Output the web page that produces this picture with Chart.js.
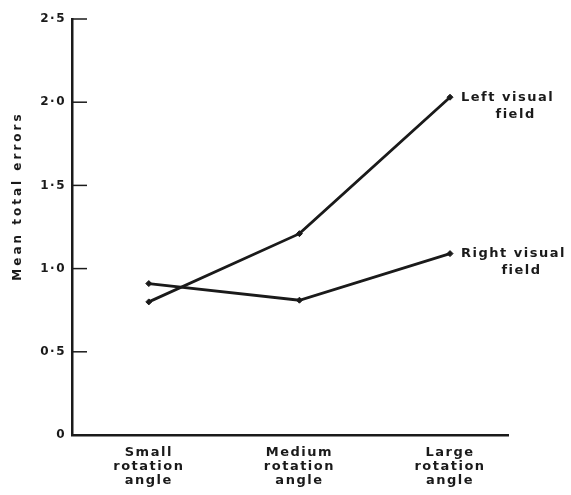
<!DOCTYPE html>
<html>
<head>
<meta charset="utf-8">
<script src="https://cdn.jsdelivr.net/npm/chart.js@4.4.1/dist/chart.umd.min.js"></script>
<style>
  html, body { margin: 0; padding: 0; background: #fff; }
  #wrap { width: 571px; height: 495px; }
</style>
</head>
<body>
<div id="wrap"><canvas id="chart" width="571" height="495"></canvas></div>
<script>
// data
const categories = [
  ['Small', 'rotation', 'angle'],
  ['Medium', 'rotation', 'angle'],
  ['Large', 'rotation', 'angle']
];
const leftField = [0.80, 1.21, 2.03];
const rightField = [0.91, 0.81, 1.09];
const yTicks = [0, 0.5, 1, 1.5, 2, 2.5];
const yTickLabels = ['0', '0·5', '1·0', '1·5', '2·0', '2·5'];
const seriesLabels = [['Left visual', 'field'], ['Right visual', 'field']];
const yTitle = 'Mean total errors';

const INK = '#1a1a1a';
const FONT = 'DejaVu Sans';

function toPoints(arr) {
  return arr.map((v, i) => ({ x: i, y: v }));
}

// inward tick marks, line end labels and the rotated y title
const extras = {
  id: 'extras',
  beforeDraw(chart) {
    chart.ctx.letterSpacing = '1.5px';
  },
  afterDraw(chart) {
    const ctx = chart.ctx;
    const y = chart.scales.y;
    const area = chart.chartArea;
    ctx.save();
    ctx.strokeStyle = INK;
    ctx.lineWidth = 1.5;
    yTicks.forEach(v => {
      if (v === 0) return;
      const py = y.getPixelForValue(v);
      ctx.beginPath();
      ctx.moveTo(area.left, py);
      ctx.lineTo(area.left + 15, py);
      ctx.stroke();
    });

    ctx.fillStyle = INK;
    ctx.font = 'bold 13px ' + FONT;
    ctx.letterSpacing = '1.5px';
    chart.data.datasets.forEach((ds, i) => {
      const pt = chart.getDatasetMeta(i).data[2];
      const lines = seriesLabels[i];
      ctx.textAlign = 'left';
      ctx.textBaseline = 'middle';
      ctx.fillText(lines[0], pt.x + 11, pt.y);
      const w = ctx.measureText(lines[0]).width;
      ctx.textAlign = 'center';
      ctx.fillText(lines[1], pt.x + 11 + w / 2 + 8, pt.y + 17);
    });

    ctx.translate(18, 196);
    ctx.rotate(-Math.PI / 2);
    ctx.textAlign = 'center';
    ctx.textBaseline = 'middle';
    ctx.font = 'bold 12px ' + FONT;
    ctx.letterSpacing = '3px';
    ctx.fillText(yTitle, 0, 0);
    ctx.restore();
  }
};

const lineStyle = {
  borderColor: INK,
  backgroundColor: INK,
  borderWidth: 2.8,
  pointStyle: 'rectRot',
  pointRadius: 3,
  pointBorderWidth: 1,
  tension: 0,
  fill: false
};

new Chart(document.getElementById('chart').getContext('2d'), {
  type: 'line',
  data: {
    datasets: [
      Object.assign({ label: seriesLabels[0].join(' '), data: toPoints(leftField) }, lineStyle),
      Object.assign({ label: seriesLabels[1].join(' '), data: toPoints(rightField) }, lineStyle)
    ]
  },
  options: {
    responsive: false,
    animation: false,
    layout: { padding: { top: 19, right: 63, left: 0, bottom: 0 } },
    plugins: {
      legend: { display: false },
      tooltip: { enabled: false }
    },
    scales: {
      x: {
        type: 'linear',
        min: -0.51,
        max: 2.385,
        afterBuildTicks: s => { s.ticks = [0, 1, 2].map(v => ({ value: v })); },
        afterFit: s => { s.height = 60; },
        grid: { display: false, drawTicks: false },
        border: { display: true, color: INK, width: 2.5 },
        ticks: {
          color: INK,
          padding: 11,
          maxRotation: 0,
          font: { family: FONT, size: 13, weight: 'bold', lineHeight: 1.05 },
          callback: v => categories[v]
        }
      },
      y: {
        min: 0,
        max: 2.5,
        afterBuildTicks: s => { s.ticks = yTicks.map(v => ({ value: v })); },
        afterFit: s => { s.width = 72; },
        grid: { display: false, drawTicks: false },
        border: { display: true, color: INK, width: 2.5 },
        ticks: {
          color: INK,
          padding: 6,
          font: { family: FONT, size: 12, weight: 'bold' },
          callback: v => yTickLabels[yTicks.indexOf(v)]
        }
      }
    }
  },
  plugins: [extras]
});
</script>
</body>
</html>
